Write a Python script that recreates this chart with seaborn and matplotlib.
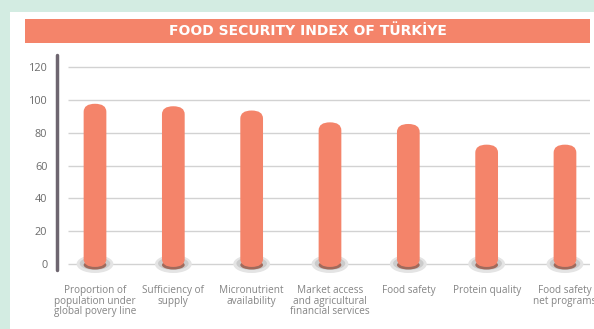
import matplotlib
matplotlib.use("Agg")
import matplotlib.pyplot as plt
import seaborn as sns
import pandas as pd
from matplotlib.patches import FancyBboxPatch, Ellipse, Rectangle

categories = [
    "Proportion of\npopulation under\nglobal povery line",
    "Sufficiency of\nsupply",
    "Micronutrient\navailability",
    "Market access\nand agricultural\nfinancial services",
    "Food safety",
    "Protein quality",
    "Food safety\nnet programs",
]
values = [97.6, 96.1, 93.5, 86.3, 85.3, 72.7, 72.7]
yticks = [0, 20, 40, 60, 80, 100, 120]
title = "FOOD SECURITY INDEX OF TÜRKİYE"

BAR = "#f4846a"
BG = "#d3ece2"

sns.set_theme(style="white")
plt.rcParams["font.family"] = ["Open Sans", "DejaVu Sans"]

W, H = 594, 329
fig = plt.figure(figsize=(W / 100, H / 100), dpi=100)
fig.patch.set_facecolor(BG)

# white panel
fig.add_artist(Rectangle((10 / W, 0), 1, 1 - 12 / H, transform=fig.transFigure,
                         facecolor="white", edgecolor="none", zorder=0))
# title bar
fig.add_artist(Rectangle((25 / W, 1 - 43 / H), (590 - 25) / W, 24 / H,
                         transform=fig.transFigure, facecolor=BAR,
                         edgecolor="none", zorder=1))
fig.text(308 / W, 1 - 31 / H, title, color="white", fontsize=10,
         fontweight="bold", ha="center", va="center", zorder=2,
         family=["DejaVu Sans"])

# axes: spine x=57 .. 590, y 55 .. 270
ax = fig.add_axes([57 / W, 1 - 270 / H, (590 - 57) / W, (270 - 55) / H])
ax.set_facecolor("none")

df = pd.DataFrame({"cat": categories, "val": values})
sns.barplot(data=df, x="cat", y="val", color=BAR, width=0.29, ax=ax,
            saturation=1, zorder=3)

px_x = 78.33  # pixels per x unit
px_y = 1.64   # pixels per y unit
xlo = -(95 - 57) / px_x
xhi = (590 - 95) / px_x
ylo = -(270 - 264) / px_y
yhi = 120 + (67 - 55) / px_y
ax.set_xlim(xlo, xhi)
ax.set_ylim(ylo, yhi)

# grid lines
ax.hlines(yticks, -(95 - 68) / px_x, xhi, color="#d2d2d2", lw=1.0, zorder=1)

# replace bars with rounded ones
bars = list(ax.patches)
for i, p in enumerate(bars):
    x0, w, h = p.get_x(), p.get_width(), p.get_height()
    cx = x0 + w / 2
    p.set_visible(False)
    # base shadow ellipses
    ax.add_patch(Ellipse((cx, 0), 0.47, 18 / px_y, facecolor="#e4e4e4",
                         edgecolor="none", zorder=2, clip_on=False))
    ax.add_patch(Ellipse((cx, 0.3), 0.39, 13 / px_y, facecolor="#cbcbcb",
                         edgecolor="none", zorder=2, clip_on=False))
    ax.add_patch(Ellipse((cx, -0.6), w * 1.0, 9 / px_y, facecolor="#a06a5c",
                         edgecolor="none", zorder=2.5, clip_on=False))
    r = w / 2
    aspect = (8 / px_y) / r
    fb = FancyBboxPatch((x0, -1.8), w, h + 1.8,
                        boxstyle=f"round,pad=0,rounding_size={r}",
                        mutation_aspect=aspect, facecolor=BAR,
                        edgecolor="none", zorder=3, clip_on=False)
    ax.add_patch(fb)

ax.set_yticks(yticks)
ax.set_yticklabels([str(t) for t in yticks], color="#6a6a6a", fontsize=7.8)
ax.set_xticks(range(len(categories)))
ax.set_xticklabels(categories, color="#858585", fontsize=7.2, linespacing=0.95)
ax.tick_params(axis="x", length=0, pad=11)
ax.tick_params(axis="y", length=3, width=2, color="#6e6670", pad=4, direction="out")
ax.set_xlabel("")
ax.set_ylabel("")
for s in ["top", "right", "bottom"]:
    ax.spines[s].set_visible(False)
ax.spines["left"].set_color("#6e6670")
ax.spines["left"].set_linewidth(2.5)
ax.spines["left"].set_capstyle("round")

fig.savefig("out.png", dpi=100, facecolor=BG)
